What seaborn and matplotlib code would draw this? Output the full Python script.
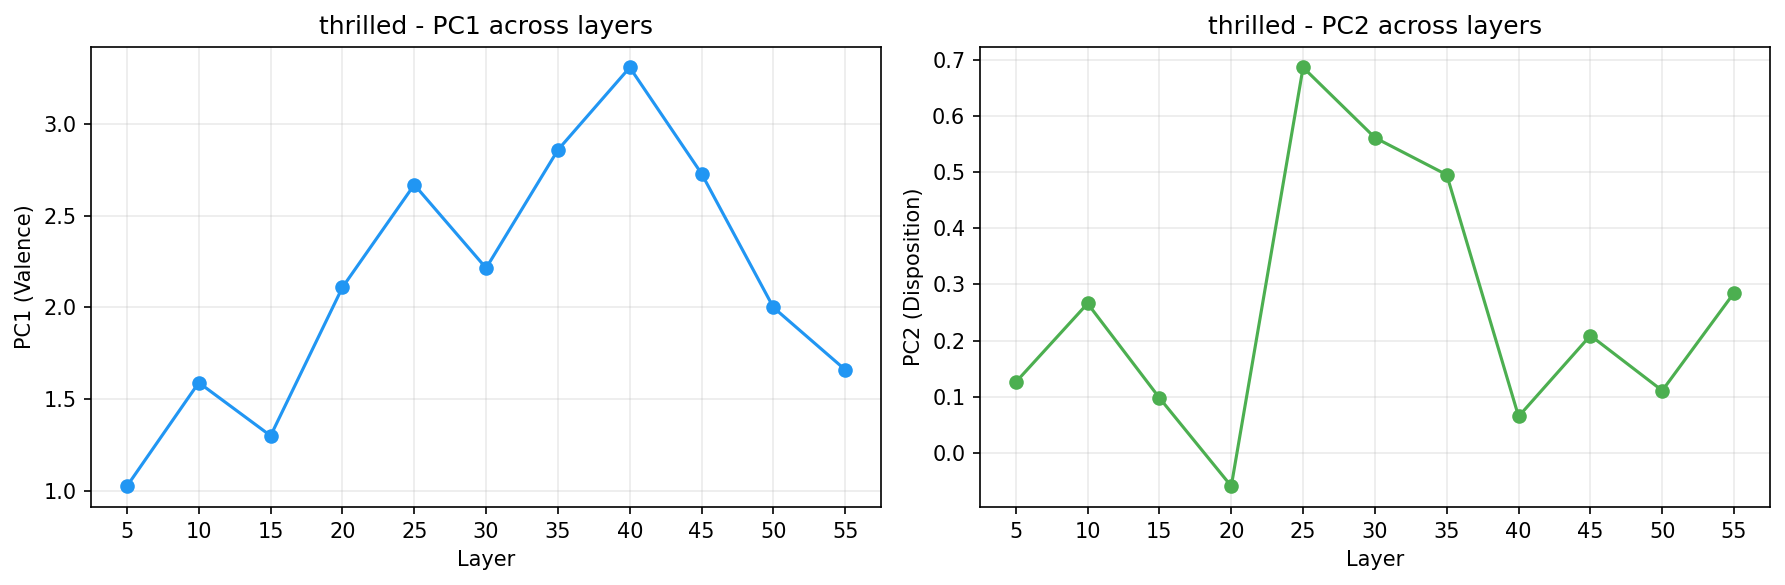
import pandas as pd
import matplotlib
matplotlib.use('Agg')
import matplotlib.pyplot as plt
import seaborn as sns

# data
layers = [5, 10, 15, 20, 25, 30, 35, 40, 45, 50, 55]
pc1 = [1.025, 1.59, 1.30, 2.11, 2.67, 2.215, 2.86, 3.31, 2.73, 2.00, 1.66]
pc2 = [0.126, 0.266, 0.098, -0.059, 0.686, 0.561, 0.495, 0.065, 0.209, 0.111, 0.285]
emotion = 'thrilled'

df = pd.DataFrame({'Layer': layers, 'PC1': pc1, 'PC2': pc2})

fig, axs = plt.subplots(1, 2, figsize=(12, 4), dpi=150)

panels = [
    ('PC1', 'PC1 (Valence)', '#2196F3'),
    ('PC2', 'PC2 (Disposition)', '#4CAF50'),
]

for ax, (col, ylabel, color) in zip(axs, panels):
    sns.lineplot(data=df, x='Layer', y=col, ax=ax, color=color, marker='o',
                 markersize=7, markeredgewidth=0, linewidth=1.5)
    ax.set_title(f'{emotion} - {col} across layers', fontsize=12)
    ax.set_xlabel('Layer')
    ax.set_ylabel(ylabel)
    ax.set_xticks(layers)
    ax.grid(True, alpha=0.25)

plt.tight_layout()
plt.savefig('out.png', dpi=150, bbox_inches='tight')
